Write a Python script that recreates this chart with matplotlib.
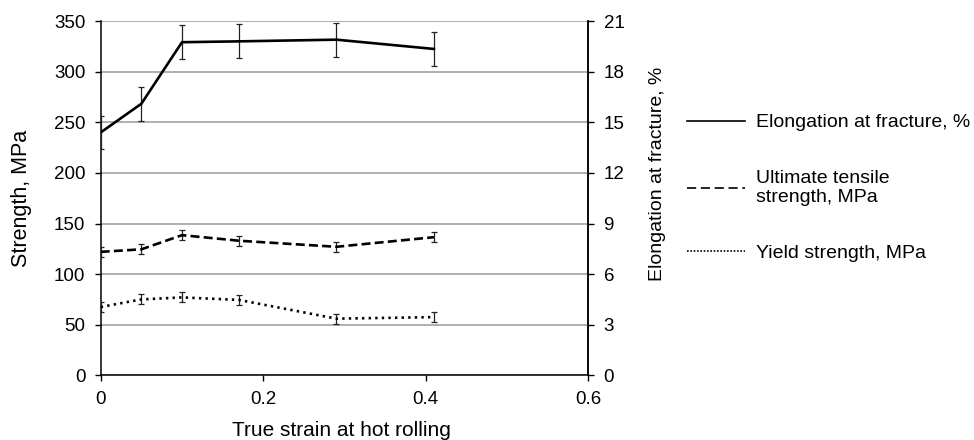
import numpy as np
import matplotlib
matplotlib.use("Agg")
import matplotlib.pyplot as plt
from matplotlib.lines import Line2D

plt.rcParams['font.family'] = ['Liberation Sans', 'DejaVu Sans']

# data
strain = [0, 0.05, 0.1, 0.17, 0.29, 0.41]
elongation = [14.4, 16.1, 19.75, 19.8, 19.9, 19.35]      # %
elongation_err = [1.0, 1.0, 1.0, 1.0, 1.0, 1.0]
uts = [122, 124.5, 138.5, 133, 127, 136.5]                # MPa
uts_err = [5, 5, 5, 5, 5, 5]
ys = [67.5, 75, 77, 74.5, 56, 57.5]                       # MPa
ys_err = [5, 5, 5, 5, 5, 5]

left_ticks = np.arange(0, 351, 50)
right_ticks = np.arange(0, 22, 3)
x_ticks = [0, 0.2, 0.4, 0.6]
x_ticklabels = ['0', '0.2', '0.4', '0.6']

fs = 13.5
lw = 1.9
ecol = '#222222'

fig = plt.figure(figsize=(9.74, 4.4), dpi=100)
ax = fig.add_axes([0.1034, 0.147, 0.5006, 0.805])
ax2 = ax.twinx()

# strength on the left axis
ax.errorbar(strain, uts, yerr=uts_err, color='black', lw=lw,
            linestyle=(0, (3.4, 1.6)), ecolor=ecol, elinewidth=0.9,
            capsize=2.3, capthick=0.9, zorder=3)
ax.errorbar(strain, ys, yerr=ys_err, color='black', lw=lw,
            linestyle=(0, (0.9, 1.6)), ecolor=ecol, elinewidth=0.9,
            capsize=2.3, capthick=0.9, zorder=3)
# elongation on the right axis
ax2.errorbar(strain, elongation, yerr=elongation_err, color='black', lw=lw,
             ecolor=ecol, elinewidth=0.9, capsize=2.5, capthick=0.9, zorder=3)

ax.set_xlim(0, 0.6)
ax.set_ylim(0, 350)
ax2.set_ylim(0, 21)
ax.set_xticks(x_ticks)
ax.set_xticklabels(x_ticklabels)
ax.set_yticks(left_ticks)
ax2.set_yticks(right_ticks)

ax.grid(axis='y', color='#9a9a9a', lw=1.1)
ax.set_axisbelow(True)

for a in (ax, ax2):
    a.spines['top'].set_visible(False)
    for s in ('left', 'right', 'bottom'):
        a.spines[s].set_linewidth(1.1)
        a.spines[s].set_color('black')
    a.tick_params(direction='out', length=4, width=1.0, labelsize=fs, pad=7)
ax2.spines['left'].set_visible(False)
ax2.spines['bottom'].set_visible(False)

ax.set_xlabel('True strain at hot rolling', fontsize=15)
ax.set_ylabel('Strength, MPa', fontsize=15.5)
ax2.set_ylabel('Elongation at fracture, %', fontsize=14)
ax.xaxis.set_label_coords(0.494, -0.129)
ax.yaxis.set_label_coords(-0.141, 0.5)
ax2.yaxis.set_label_coords(1.124, 0.568)

handles = [
    Line2D([], [], color='black', lw=1.2),
    Line2D([], [], color='black', lw=1.2, linestyle=(0, (5.5, 2.8))),
    Line2D([], [], color='black', lw=1.2, linestyle=(0, (1, 1))),
]
labels = ['Elongation at fracture, %', 'Ultimate tensile\nstrength, MPa',
          'Yield strength, MPa']
fig.legend(handles, labels, loc='center left', bbox_to_anchor=(0.697, 0.573),
           frameon=False, fontsize=14, handlelength=3.0, handletextpad=0.55,
           labelspacing=1.96, borderaxespad=0)

fig.savefig('out.png', dpi=100)
